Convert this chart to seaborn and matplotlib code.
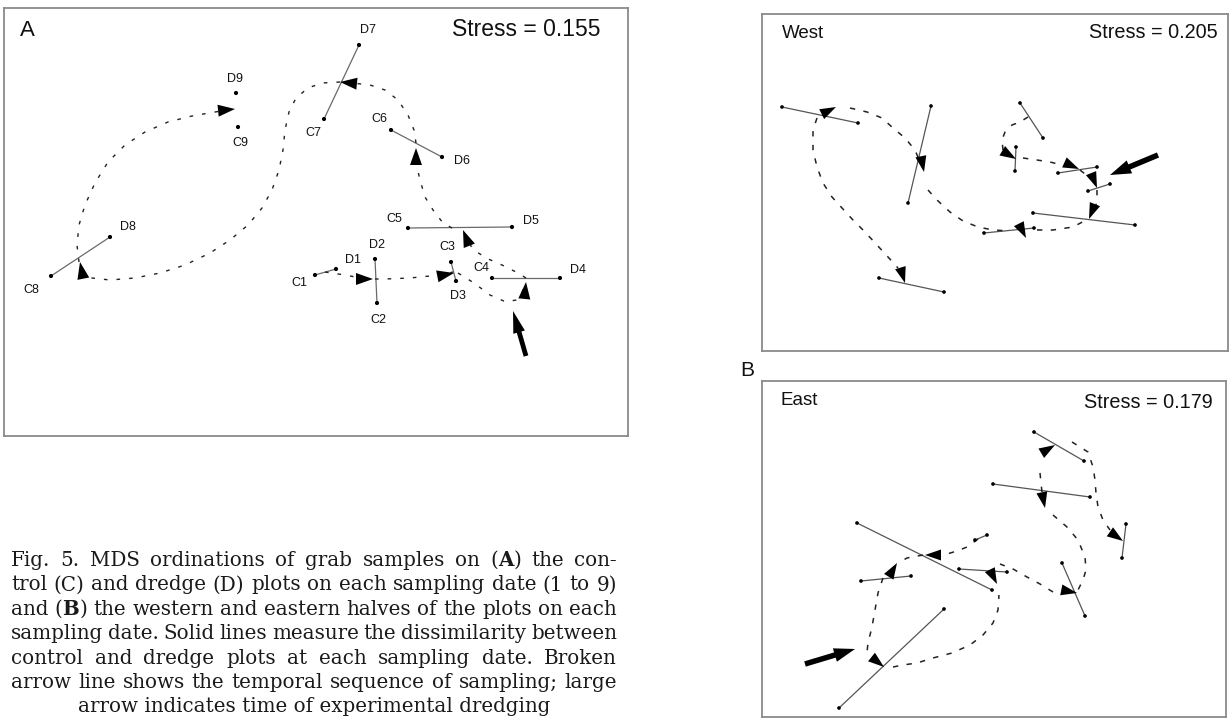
import numpy as np
import matplotlib
matplotlib.use("Agg")
import matplotlib.pyplot as plt
import seaborn as sns
import pandas as pd

sns.set_theme(style="white")
plt.rcParams['font.family'] = ['Liberation Sans', 'DejaVu Sans']

W, H = 1231, 718

# ---------------- Panel A data (ordination positions, picture units) -------------
a_ctrl_x = [315, 377, 451, 492, 408, 391, 324, 51, 238]
a_ctrl_y = [275, 303, 262, 278, 228, 130, 119, 276, 127]
a_dred_x = [336, 375, 456, 560, 512, 442, 359, 110, 236]
a_dred_y = [269, 259, 281, 278, 227, 157, 45, 237, 93]
a_dates = [1, 2, 3, 4, 5, 6, 7, 8, 9]
a_linked = [1, 2, 3, 4, 5, 6, 7, 8]          # dates with a visible C-D line
a_stress = "Stress = 0.155"

# temporal-sequence arrow heads (tip, direction)
a_head_x = [373, 454, 526, 463, 416, 340, 80, 235]
a_head_y = [279, 273, 282, 230, 148, 82, 262, 109]
a_head_dx = [1, 1, 0.1, -0.4, 0, -1, -0.2, 1]
a_head_dy = [0, -0.2, -1, -1, -1, -0.1, -1, -0.1]

# broken sequence line
a_path = [
    [(325, 272), (345, 275), (366, 279), (385, 279), (410, 278), (440, 275), (453, 272)],
    [(458, 273), (474, 283), (490, 295), (506, 302), (516, 300), (522, 293), (525, 283)],
    [(526, 278), (518, 273), (502, 265), (486, 258), (474, 250), (468, 242)],
    [(452, 228), (443, 223), (433, 210), (425, 197), (420, 180), (417, 167), (416, 152)],
    [(416, 143), (414, 130), (408, 115), (398, 100), (385, 90), (370, 85), (352, 83)],
    [(340, 82), (322, 83), (308, 88), (296, 98), (289, 112), (285, 130), (283, 150),
     (279, 170), (272, 190), (262, 208), (248, 225), (230, 240), (210, 253), (185, 265),
     (160, 273), (135, 278), (110, 280), (92, 278), (85, 275)],
    [(79, 262), (77, 245), (79, 225), (85, 205), (95, 183), (108, 162), (125, 145),
     (145, 132), (168, 122), (192, 116), (215, 112), (228, 110)],
]
a_dredge_tail = (526, 356)
a_dredge_tip = (513, 311)

# ---------------- Panel B West ----------------
w_c_x = [782, 931, 1020, 1016, 1058, 1088, 1033, 984, 879]
w_c_y = [107, 106, 103, 147, 173, 191, 213, 233, 278]
w_d_x = [858, 908, 1043, 1015, 1097, 1110, 1135, 1034, 944]
w_d_y = [123, 203, 138, 171, 167, 184, 225, 228, 292]
w_stress = "Stress = 0.205"
w_head_x = [836, 924, 1016, 1079, 1097, 1089, 1026, 905]
w_head_y = [107, 172, 159, 169, 188, 219, 238, 283]
w_head_dx = [1, 0.2, 1, 1, 0.4, -0.4, 0.5, 0.3]
w_head_dy = [-0.5, 1, 0.6, 0.45, 1, 1, 1, 1]
w_path = [
    [(850, 108), (867, 112), (882, 118), (893, 128), (905, 138), (915, 150), (920, 162)],
    [(817, 118), (813, 130), (813, 150), (817, 167), (823, 183), (832, 197), (842, 208),
     (853, 220), (865, 232), (877, 245), (888, 257), (898, 268)],
    [(928, 190), (937, 200), (950, 212), (963, 221), (978, 227), (993, 230), (1010, 231)],
    [(1037, 230), (1053, 230), (1073, 227), (1088, 219)],
    [(1028, 117), (1020, 122), (1012, 125), (1005, 132), (1002, 140), (1003, 150)],
    [(1023, 158), (1037, 160), (1050, 162), (1062, 165)],
    [(1080, 170), (1090, 178)],
    [(1097, 190), (1097, 197), (1096, 205)],
]
w_dredge_tail = (1158, 155)
w_dredge_tip = (1110, 175)

# ---------------- Panel B East ----------------
e_c_x = [1034, 993, 1126, 857, 975, 959, 1062, 861, 944]
e_c_y = [432, 484, 524, 523, 540, 569, 563, 581, 609]
e_d_x = [1084, 1090, 1122, 992, 987, 1007, 1085, 911, 839]
e_d_y = [461, 497, 558, 590, 535, 572, 616, 576, 708]
e_stress = "Stress = 0.179"
e_head_x = [1055, 1045, 1123, 925, 897, 997, 1077, 884]
e_head_y = [445, 508, 541, 555, 563, 584, 593, 667]
e_head_dx = [1, 0.2, 1, -1, 0.6, 0.5, 1, 1]
e_head_dy = [-0.6, 1, 0.7, 0, -1, 1, 0.2, 0.8]
e_path = [
    [(1072, 442), (1088, 452), (1093, 467), (1095, 480), (1096, 493), (1098, 507),
     (1103, 520), (1110, 530)],
    [(1040, 473), (1041, 483), (1042, 492)],
    [(1053, 515), (1067, 527), (1078, 540), (1085, 557), (1086, 570), (1083, 580), (1077, 592)],
    [(1053, 592), (1040, 584), (1027, 577), (1013, 569), (1000, 564)],
    [(978, 539), (967, 547), (957, 551), (947, 554)],
    [(923, 555), (907, 558), (900, 562)],
    [(883, 578), (878, 593), (875, 610), (872, 627), (868, 643), (867, 652)],
    [(893, 667), (903, 665), (917, 663), (933, 658), (952, 653), (970, 645), (983, 635),
     (993, 623), (998, 610), (999, 595)],
]
e_dredge_tail = (805, 664)
e_dredge_tip = (855, 649)

caption_lines = [
    "Fig. 5. MDS ordinations of grab samples on (A) the con-",
    "trol (C) and dredge (D) plots on each sampling date (1 to 9)",
    "and (B) the western and eastern halves of the plots on each",
    "sampling date. Solid lines measure the dissimilarity between",
    "control and dredge plots at each sampling date. Broken",
    "arrow line shows the temporal sequence of sampling; large",
    "arrow indicates time of experimental dredging",
]

# ---------------- drawing ----------------
fig = plt.figure(figsize=(W / 100, H / 100), dpi=100)


def panel(l, t, r, b):
    ax = fig.add_axes([l / W, 1 - b / H, (r - l) / W, (b - t) / H])
    ax.set_xlim(l, r)
    ax.set_ylim(b, t)
    ax.set_xticks([])
    ax.set_yticks([])
    for s in ax.spines.values():
        s.set_color('#8a8a8a')
        s.set_linewidth(1.3)
    ax.set_facecolor('white')
    return ax


def heads(ax, xs, ys, dxs, dys, L=16, Wd=10):
    for x, y, dx, dy in zip(xs, ys, dxs, dys):
        u = np.array([dx, dy], float)
        u /= np.hypot(*u)
        n = np.array([-u[1], u[0]])
        tip = np.array([x, y], float)
        base = tip - L * u
        p1 = base + n * Wd / 2
        p2 = base - n * Wd / 2
        ax.fill([tip[0], p1[0], p2[0]], [tip[1], p1[1], p2[1]], color='black', lw=0, zorder=5)


def paths(ax, pl, dash, lw=1.0):
    for p in pl:
        xs, ys = zip(*p)
        ax.plot(xs, ys, color='#222222', lw=lw, linestyle=(0, dash), zorder=3)


def big_arrow(ax, tail, tip, w=4.5, hw=13, hl=20):
    ax.arrow(tail[0], tail[1], tip[0] - tail[0], tip[1] - tail[1], width=w,
             head_width=hw, head_length=hl, length_includes_head=True,
             color='black', lw=0, zorder=6)


# Panel A
axA = panel(4, 8, 628, 436)
for d in a_linked:
    i = d - 1
    axA.plot([a_ctrl_x[i], a_dred_x[i]], [a_ctrl_y[i], a_dred_y[i]],
             color='#6a6a6a', lw=0.9, zorder=2)
dfA = pd.DataFrame({"x": a_ctrl_x + a_dred_x, "y": a_ctrl_y + a_dred_y,
                    "lab": [f"C{d}" for d in a_dates] + [f"D{d}" for d in a_dates]})
sns.scatterplot(data=dfA, x="x", y="y", ax=axA, color='black', s=9,
                edgecolor='none', legend=False, zorder=4)
lab_off = {"C1": (-16, 8), "D1": (17, -9), "C2": (1, 17), "D2": (2, -14),
           "C3": (-4, -15), "D3": (2, 15), "C4": (-11, -10), "D4": (18, -8),
           "C5": (-14, -9), "D5": (19, -6), "C6": (-12, -11), "D6": (20, 4),
           "C7": (-11, 14), "D7": (9, -15), "C8": (-20, 14), "D8": (18, -10),
           "C9": (2, 16), "D9": (-1, -14)}
for x, y, lab in zip(dfA.x, dfA.y, dfA.lab):
    ox, oy = lab_off[lab]
    axA.text(x + ox, y + oy, lab, fontsize=9, ha='center', va='center', color='#111')
paths(axA, a_path, (2.6, 6.5), lw=1.0)
heads(axA, a_head_x, a_head_y, a_head_dx, a_head_dy, L=17, Wd=12)
big_arrow(axA, a_dredge_tail, a_dredge_tip, w=4.8, hw=12, hl=22)
axA.text(20, 30, "A", fontsize=16, ha='left', va='center', color='#111')
axA.text(601, 30, a_stress, fontsize=16.5, ha='right', va='center', color='#111')


def panelB(ax, cx, cy, dx, dy, hx, hy, hdx, hdy, pl, tail, tip):
    for x0, y0, x1, y1 in zip(cx, cy, dx, dy):
        ax.plot([x0, x1], [y0, y1], color='#555555', lw=0.9, zorder=2)
    df = pd.DataFrame({"x": cx + dx, "y": cy + dy})
    sns.scatterplot(data=df, x="x", y="y", ax=ax, color='black', s=7,
                    edgecolor='none', legend=False, zorder=4)
    paths(ax, pl, (3.5, 5.5), lw=1.1)
    heads(ax, hx, hy, hdx, hdy, L=16, Wd=11)
    big_arrow(ax, tail, tip, w=5.5, hw=14, hl=21)


axW = panel(762, 14, 1228, 351)
panelB(axW, w_c_x, w_c_y, w_d_x, w_d_y, w_head_x, w_head_y, w_head_dx, w_head_dy,
       w_path, w_dredge_tail, w_dredge_tip)
axW.text(782, 33, "West", fontsize=13.5, ha='left', va='center', color='#111')
axW.text(1218, 33, w_stress, fontsize=14.3, ha='right', va='center', color='#111')

axE = panel(762, 381, 1226, 717)
panelB(axE, e_c_x, e_c_y, e_d_x, e_d_y, e_head_x, e_head_y, e_head_dx, e_head_dy,
       e_path, e_dredge_tail, e_dredge_tip)
axE.text(780, 400, "East", fontsize=13.5, ha='left', va='center', color='#111')
axE.text(1213, 402, e_stress, fontsize=14.3, ha='right', va='center', color='#111')

# overlay for caption and B label
ov = fig.add_axes([0, 0, 1, 1], zorder=-1)
ov.set_xlim(0, W)
ov.set_ylim(H, 0)
ov.axis('off')
ov.text(740, 371, "B", fontsize=15, ha='left', va='center', color='#111')

fig.canvas.draw()
rend = fig.canvas.get_renderer()
cap_font = dict(fontsize=14.3, family=['DejaVu Serif'], color='#1a1a1a')


def segs(word):
    if word in ("(A)", "(B)"):
        return [("(", 'normal'), (word[1], 'bold'), (")", 'normal')]
    return [(word, 'normal')]


def width(txt, weight):
    t = ov.text(0, 0, txt, weight=weight, **cap_font)
    w = t.get_window_extent(renderer=rend).width
    t.remove()
    return w


x0, x1 = 11, 617
base0, step = 566, 24.4
for k, line in enumerate(caption_lines):
    yb = base0 + k * step
    if k == len(caption_lines) - 1:
        ov.text((x0 + x1) / 2, yb, line, ha='center', va='baseline', **cap_font)
        continue
    words = line.split(" ")
    wsegs = [segs(w) for w in words]
    wwid = [sum(width(s, wt) for s, wt in sg) for sg in wsegs]
    gap = (x1 - x0 - sum(wwid)) / (len(words) - 1)
    x = x0
    for sg, ww in zip(wsegs, wwid):
        xx = x
        for s, wt in sg:
            ov.text(xx, yb, s, ha='left', va='baseline', weight=wt, **cap_font)
            xx += width(s, wt)
        x += ww + gap

fig.savefig("out.png", dpi=100)
